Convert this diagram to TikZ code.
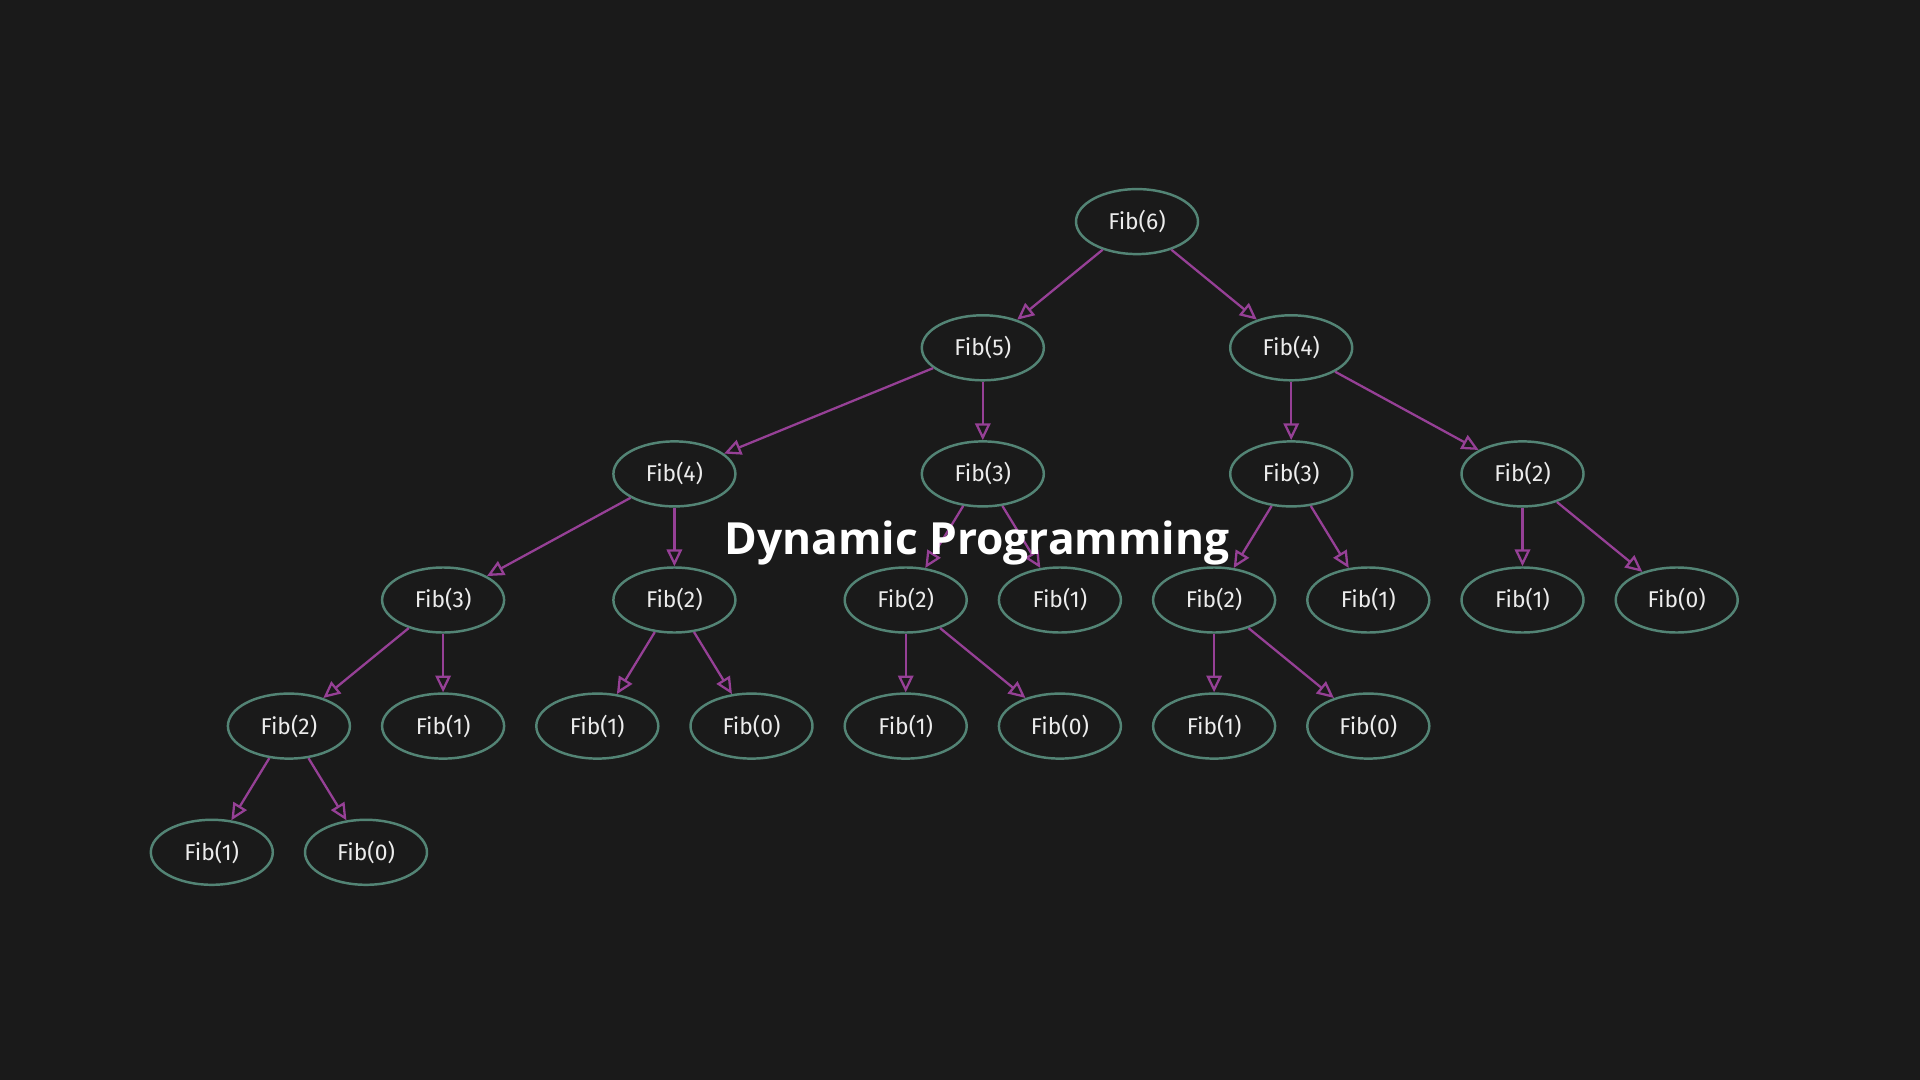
\documentclass[tikz,border=0pt]{standalone}
\usepackage{fontspec}
\setmainfont{Fira Sans}
\newfontfamily\titlefont{Open Sans}
\usepackage{tikz}
\usetikzlibrary{arrows.meta,shapes.geometric}
\usepackage{xcolor}
\definecolor{bgdark}{RGB}{26,26,26}
\definecolor{fibgreen}{RGB}{83,132,117}
\definecolor{fibpurple}{RGB}{150,64,150}
\definecolor{fibtext}{RGB}{236,236,236}

\begin{document}
\begin{tikzpicture}[yscale=-1,
  fib/.style={ellipse, draw=fibgreen, line width=0.7pt, minimum width=1.22cm, minimum height=0.65cm, inner sep=0pt, text=fibtext, font=\fontsize{6.5pt}{7pt}\selectfont},
  call/.style={draw=fibpurple, line width=0.65pt, -{Triangle[open,length=4.8pt,width=4.4pt]}}]
\fill[bgdark] (0,0) rectangle (19.2,10.8);
\useasboundingbox (0,0) rectangle (19.2,10.8);
% row 1
\node[fib] (f6) at (11.370,2.216) {Fib(6)};
% row 2
\node[fib] (f5) at (9.828,3.478) {Fib(5)};
\node[fib] (f4) at (12.912,3.478) {Fib(4)};
% row 3
\node[fib] (f4a) at (6.744,4.739) {Fib(4)};
\node[fib] (f3a) at (9.828,4.739) {Fib(3)};
\node[fib] (f3b) at (12.912,4.739) {Fib(3)};
\node[fib] (f2a) at (15.225,4.739) {Fib(2)};
% row 4
\node[fib] (f3c) at (4.431,6.000) {Fib(3)};
\node[fib] (f2b) at (6.744,6.000) {Fib(2)};
\node[fib] (f2c) at (9.057,6.000) {Fib(2)};
\node[fib] (f1a) at (10.599,6.000) {Fib(1)};
\node[fib] (f2d) at (12.141,6.000) {Fib(2)};
\node[fib] (f1b) at (13.683,6.000) {Fib(1)};
\node[fib] (f1c) at (15.225,6.000) {Fib(1)};
\node[fib] (f0a) at (16.767,6.000) {Fib(0)};
% row 5
\node[fib] (f2e) at (2.889,7.261) {Fib(2)};
\node[fib] (f1d) at (4.431,7.261) {Fib(1)};
\node[fib] (f1e) at (5.973,7.261) {Fib(1)};
\node[fib] (f0b) at (7.515,7.261) {Fib(0)};
\node[fib] (f1f) at (9.057,7.261) {Fib(1)};
\node[fib] (f0c) at (10.599,7.261) {Fib(0)};
\node[fib] (f1g) at (12.141,7.261) {Fib(1)};
\node[fib] (f0d) at (13.683,7.261) {Fib(0)};
% row 6
\node[fib] (f1h) at (2.118,8.523) {Fib(1)};
\node[fib] (f0e) at (3.660,8.523) {Fib(0)};

\draw[call] (f6) -- (f5);
\draw[call] (f6) -- (f4);
\draw[call] (f5) -- (f4a);
\draw[call] (f5) -- (f3a);
\draw[call] (f4) -- (f3b);
\draw[call] (f4) -- (f2a);
\draw[call] (f4a) -- (f3c);
\draw[call] (f4a) -- (f2b);
\draw[call] (f3a) -- (f2c);
\draw[call] (f3a) -- (f1a);
\draw[call] (f3b) -- (f2d);
\draw[call] (f3b) -- (f1b);
\draw[call] (f2a) -- (f1c);
\draw[call] (f2a) -- (f0a);
\draw[call] (f3c) -- (f2e);
\draw[call] (f3c) -- (f1d);
\draw[call] (f2b) -- (f1e);
\draw[call] (f2b) -- (f0b);
\draw[call] (f2c) -- (f1f);
\draw[call] (f2c) -- (f0c);
\draw[call] (f2d) -- (f1g);
\draw[call] (f2d) -- (f0d);
\draw[call] (f2e) -- (f1h);
\draw[call] (f2e) -- (f0e);

\node[text=white, font=\titlefont\bfseries\fontsize{12.6pt}{14pt}\selectfont, anchor=base] (title) at (9.77,5.54) {Dynamic Programming};
\end{tikzpicture}
\end{document}
